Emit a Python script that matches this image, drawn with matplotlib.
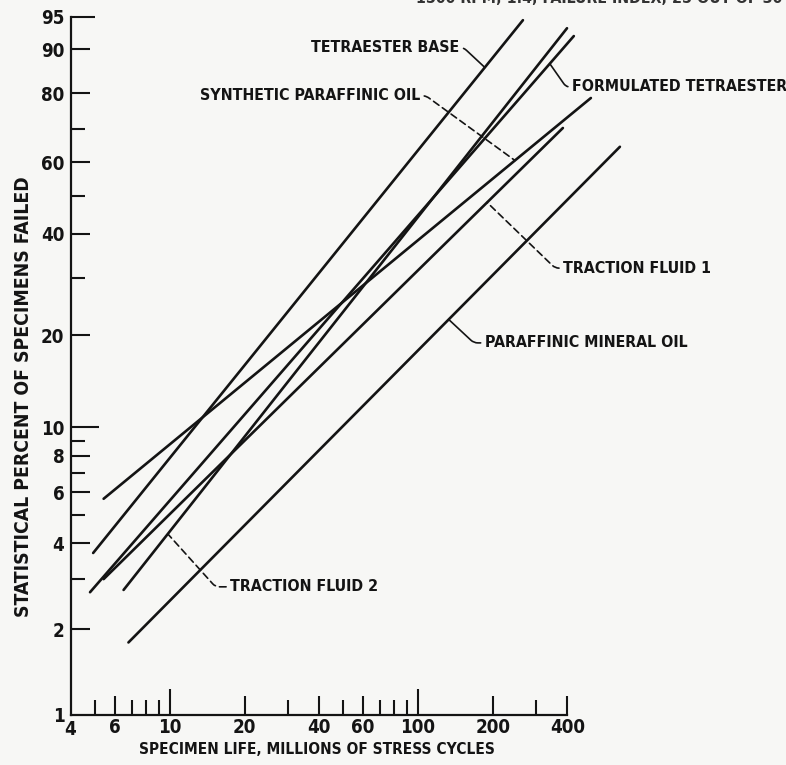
import numpy as np
import matplotlib
matplotlib.use('Agg')
import matplotlib.pyplot as plt
from matplotlib import font_manager as fm

# fitted Weibull lines (life in millions of cycles, percent failed)
names = ['TETRAESTER BASE', 'SYNTHETIC PARAFFINIC OIL', 'FORMULATED TETRAESTER',
         'TRACTION FLUID 1', 'PARAFFINIC MINERAL OIL', 'TRACTION FLUID 2']
life_start = [4.9, 5.4, 4.76, 5.4, 6.8, 6.5]
life_end = [265, 498, 425, 384, 652, 399]
pct_start = [3.7, 5.7, 2.7, 3.0, 1.8, 2.75]
pct_end = [94.6, 78.7, 92.3, 70.2, 64.6, 93.5]

# where each label sits and where its leader meets the line
label_life = [147, 102, 418, 385, 186, 17.5]
label_pct = [90.3, 79.3, 81.6, 32.0, 18.9, 2.82]
leader_life = [186, 246, 340, 190, 133, 9.8]
leader_angle = [137, 144, 125, 136, 137, 132]
leader_dashed = [False, True, False, True, False, True]

xtick_major = [6, 10, 20, 40, 60, 100, 200, 400]
xtick_minor = [5, 7, 8, 9, 30, 50, 70, 80, 90, 300]
ytick_major = [1, 2, 4, 6, 8, 10, 20, 40, 60, 80, 90, 95]
ytick_minor = [3, 5, 7, 9, 30, 50, 70]


def pick_narrow_bold():
    # look for a condensed / narrow bold face among installed fonts
    best = None
    for f in fm.fontManager.ttflist:
        tag = (f.name + ' ' + f.fname + ' ' + str(f.stretch)).lower()
        if 'semi' in tag or 'extra' in tag or 'ultra' in tag:
            continue
        if not ('condensed' in tag or 'narrow' in tag):
            continue
        if f.style != 'normal':
            continue
        w = f.weight if isinstance(f.weight, int) else {'bold': 700}.get(f.weight, 400)
        if w < 600:
            continue
        rank = 0 if 'liberation' in tag else 1 if 'dejavu' in tag else 2
        if best is None or rank < best[0]:
            best = (rank, f.fname)
    return best[1] if best else None


narrow = pick_narrow_bold()
if narrow:
    base = dict(fname=narrow)
    fs = 13.5
else:
    base = dict(family=['Roboto', 'DejaVu Sans'], weight='bold')
    fs = 12
fs_note = fs * 0.85


def fp(size):
    return fm.FontProperties(size=size, **base)


def weib(p):
    p = np.clip(np.asarray(p, dtype=float), 1e-6, 99.99999)
    return np.log(-np.log(1 - p / 100.0))


def weib_inv(w):
    return 100.0 * (1 - np.exp(-np.exp(w)))


def pct_on_line(i, life):
    # straight line in log-life / Weibull space
    x0, x1 = np.log10(life_start[i]), np.log10(life_end[i])
    w0, w1 = weib(pct_start[i]), weib(pct_end[i])
    t = (np.log10(life) - x0) / (x1 - x0)
    return weib_inv(w0 + t * (w1 - w0))


ink = '#141414'
fig = plt.figure(figsize=(7.86, 7.65), dpi=100, facecolor='#f7f7f5')
ax = fig.add_axes([0.0907, 0.0654, 0.7566, 0.9124])
ax.set_facecolor('#f7f7f5')
ax.set_xscale('log')
ax.set_yscale('function', functions=(weib, weib_inv))
ax.set_xlim(4, 1000)
ax.set_ylim(1, 95)

for i in range(len(names)):
    ax.plot([life_start[i], life_end[i]], [pct_start[i], pct_end[i]],
            color=ink, lw=1.9, solid_capstyle='round', clip_on=False)

for i in range(len(names)):
    tx, ty = label_life[i], label_pct[i]
    px = leader_life[i]
    py = pct_on_line(i, px)
    right = tx > px
    ax.annotate(names[i], xy=(px, py), xytext=(tx, ty),
                ha='left' if right else 'right', va='center',
                fontproperties=fp(fs_note), color=ink, annotation_clip=False,
                arrowprops=dict(arrowstyle='-', color=ink, lw=1.2,
                                linestyle=(0, (4, 2.5)) if leader_dashed[i] else '-',
                                shrinkA=1, shrinkB=0,
                                connectionstyle='angle,angleA=0,angleB=%d,rad=4'
                                % leader_angle[i]))

# axes styling
for s in ['top', 'right']:
    ax.spines[s].set_visible(False)
ax.spines['left'].set_bounds(1, 95)
ax.spines['bottom'].set_bounds(4, 400)
for s in ['left', 'bottom']:
    ax.spines[s].set_linewidth(1.6)
    ax.spines[s].set_color(ink)

ax.set_xticks(xtick_major)
ax.set_xticklabels([str(v) for v in xtick_major])
ax.set_xticks(xtick_minor, minor=True)
ax.set_yticks(ytick_major)
ax.set_yticklabels([str(v) for v in ytick_major])
ax.set_yticks(ytick_minor, minor=True)
ax.yaxis.set_minor_formatter(plt.NullFormatter())
ax.xaxis.set_minor_formatter(plt.NullFormatter())

ax.tick_params(axis='both', which='both', direction='in', color=ink, width=1.5,
               labelcolor=ink)
ax.tick_params(axis='x', which='major', length=14, pad=2)
ax.tick_params(axis='x', which='minor', length=11)
ax.tick_params(axis='y', which='major', length=14, pad=5)
ax.tick_params(axis='y', which='minor', length=10)
for lab in ax.get_xticklabels() + ax.get_yticklabels():
    lab.set_fontproperties(fp(fs))

for t in ax.xaxis.get_major_ticks():
    if t.get_loc() in (10, 100):
        t.tick1line.set_markersize(19)
for t in ax.yaxis.get_major_ticks():
    loc = t.get_loc()
    if loc == 10:
        t.tick1line.set_markersize(20)
    elif loc == 95:
        t.tick1line.set_markersize(17)
    elif loc == 1:
        t.tick1line.set_markersize(0)

# the "4" sits at the corner of the axes
fig.text(0.089, 0.047, '4', ha='center', va='center', fontproperties=fp(fs), color=ink)

ax.set_xlabel('SPECIMEN LIFE, MILLIONS OF STRESS CYCLES', fontproperties=fp(fs * 0.82),
              color=ink)
ax.xaxis.set_label_coords(0.413, -0.039)
ax.set_ylabel('STATISTICAL PERCENT OF SPECIMENS FAILED', fontproperties=fp(fs * 1.03),
              color=ink)
ax.yaxis.set_label_coords(-0.064, 0.456)

# header line cut off at the top of the scan
fig.text(0.995, 1.002, '1500 RPM; 1.4, FAILURE INDEX, 25 OUT OF 30', ha='right',
         va='center', fontproperties=fp(fs_note), color='#333333')

fig.savefig('out.png', dpi=100, facecolor=fig.get_facecolor())
